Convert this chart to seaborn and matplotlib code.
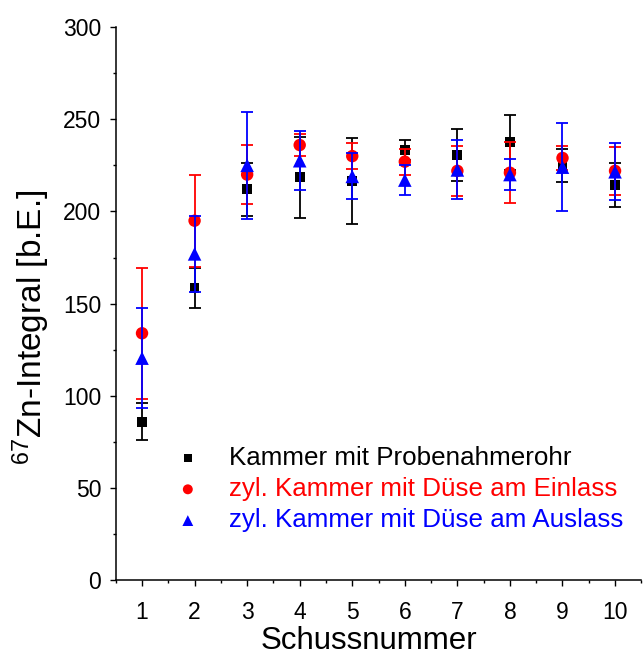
import matplotlib
matplotlib.use("Agg")
import matplotlib.pyplot as plt
import seaborn as sns
import numpy as np
import pandas as pd
from matplotlib.ticker import MultipleLocator

# Shot numbers
shots = [1, 2, 3, 4, 5, 6, 7, 8, 9, 10]

# 67Zn integrals (arbitrary units) and their standard deviations
probenahme = [86, 158.5, 212, 218.5, 216.5, 233.5, 230.5, 237.5, 225, 214.5]
probenahme_err = [10, 11, 14.5, 22, 23.5, 5.5, 14, 15, 9, 12]

einlass = [134, 195, 220, 236, 230, 227, 222, 221, 229, 222]
einlass_err = [35.5, 25, 16, 6, 7, 7, 13.5, 16.5, 6.5, 13]

auslass = [120.5, 177, 225, 227.5, 219, 217, 222.5, 220, 224, 221.5]
auslass_err = [27, 20.5, 29, 16, 12.5, 8, 16, 8.5, 24, 15.5]

labels = ["Kammer mit Probenahmerohr",
          "zyl. Kammer mit Düse am Einlass",
          "zyl. Kammer mit Düse am Auslass"]
colors = ["#000000", "#FF0000", "#0000FF"]
markers = ["s", "o", "^"]
msizes = [50, 80, 95]

sns.set_theme(style="ticks")
plt.rcParams["font.family"] = ["Liberation Sans", "DejaVu Sans"]
plt.rcParams["mathtext.fontset"] = "custom"
plt.rcParams["mathtext.rm"] = "Liberation Sans"
plt.rcParams["mathtext.it"] = "Liberation Sans:italic"
plt.rcParams["mathtext.bf"] = "Liberation Sans:bold"
for key in ["text.color", "axes.labelcolor", "xtick.color", "ytick.color",
            "axes.edgecolor"]:
    plt.rcParams[key] = "black"

frames = []
for lab, vals, errs in zip(labels, [probenahme, einlass, auslass],
                           [probenahme_err, einlass_err, auslass_err]):
    frames.append(pd.DataFrame({"Schuss": shots, "Wert": vals,
                                "Fehler": errs, "Serie": lab}))
df = pd.concat(frames, ignore_index=True)

fig = plt.figure(figsize=(6.43, 6.56), dpi=100)
ax = fig.add_axes([0.18, 0.1151, 0.8174, 0.8438])

for i, lab in enumerate(labels):
    sub = df[df["Serie"] == lab]
    ax.errorbar(sub["Schuss"], sub["Wert"], yerr=sub["Fehler"], fmt="none",
                ecolor=colors[i], elinewidth=1.3, capsize=4.2, capthick=1.3,
                zorder=2 + 2 * i)
    sns.scatterplot(data=sub, x="Schuss", y="Wert", ax=ax, color=colors[i],
                    marker=markers[i], s=msizes[i], edgecolor="none",
                    linewidth=0, label=lab, zorder=3 + 2 * i)

ax.set_xlim(0.5, 10.5)
ax.set_ylim(0, 300)
ax.xaxis.set_major_locator(MultipleLocator(1))
ax.xaxis.set_minor_locator(MultipleLocator(0.5))
ax.yaxis.set_major_locator(MultipleLocator(50))
ax.yaxis.set_minor_locator(MultipleLocator(25))

for side in ["top", "right"]:
    ax.spines[side].set_visible(False)
for side in ["left", "bottom"]:
    ax.spines[side].set_linewidth(1.1)
    ax.spines[side].set_color("black")

ax.tick_params(axis="both", which="major", direction="out", length=4.5,
               width=1.0, labelsize=16.5, colors="black")
ax.tick_params(axis="both", which="minor", direction="out", length=2.5,
               width=1.0, colors="black")
ax.tick_params(axis="x", which="major", pad=10)
ax.tick_params(axis="y", which="major", pad=6)

ax.set_xlabel("Schussnummer", fontsize=22.5, color="black")
ax.set_ylabel(r"$\mathregular{^{67}}$Zn-Integral [b.E.]", fontsize=24,
              color="black")
ax.xaxis.set_label_coords(0.482, -0.083, transform=ax.transAxes)
ax.yaxis.set_label_coords(-0.122, 0.458, transform=ax.transAxes)

leg = ax.legend(loc="upper left", bbox_to_anchor=(0.0976, 0.262),
                frameon=False, fontsize=18.7, handlelength=0.8,
                handletextpad=1.18, labelspacing=0.28, markerscale=0.8,
                borderaxespad=0)
for text, c in zip(leg.get_texts(), colors):
    text.set_color(c)

fig.savefig("out.png", dpi=100)
